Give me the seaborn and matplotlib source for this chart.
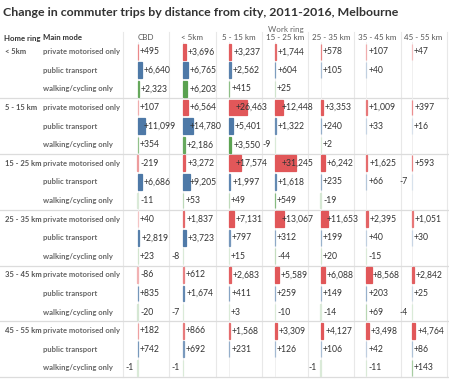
import numpy as np
import pandas as pd
import seaborn as sns
import matplotlib.pyplot as plt
from matplotlib.colors import to_rgb

nan = np.nan
work_rings = ["CBD", "< 5km", "5 - 15 km", "15 - 25 km", "25 - 35 km", "35 - 45 km", "45 - 55 km"]
home_rings = ["< 5km", "5 - 15 km", "15 - 25 km", "25 - 35 km", "35 - 45 km", "45 - 55 km"]
modes = ["private motorised only", "public transport", "walking/cycling only"]

# change in trips, rows = home ring, cols = work ring
private = [
    [495, 3696, 3237, 1744, 578, 107, 47],
    [107, 6564, 26463, 12448, 3353, 1009, 397],
    [-219, 3272, 17574, 31245, 6242, 1625, 593],
    [40, 1837, 7131, 13067, 11653, 2395, 1051],
    [-86, 612, 2683, 5589, 6088, 8568, 2842],
    [182, 866, 1568, 3309, 4127, 3498, 4764],
]
public = [
    [6640, 6765, 2562, 604, 105, 40, nan],
    [11099, 14780, 5401, 1322, 240, 33, 16],
    [6686, 9205, 1997, 1618, 235, 66, -7],
    [2819, 3723, 797, 312, 199, 40, 30],
    [835, 1674, 411, 259, 149, 203, 25],
    [742, 692, 231, 126, 106, 42, 86],
]
walking = [
    [2323, 6203, 415, 25, nan, nan, nan],
    [354, 2186, 3550, -9, 2, nan, nan],
    [-11, 53, 49, 549, -19, nan, nan],
    [23, -8, 15, -44, 20, -15, nan],
    [-20, -7, 3, -10, -14, 69, -4],
    [-1, -1, nan, nan, -1, -11, 143],
]
mode_colors = ["#e15759", "#4e79a7", "#59a14f"]

rows = []
for g, home in enumerate(home_rings):
    for m, table in enumerate([private, public, walking]):
        for j, work in enumerate(work_rings):
            rows.append(dict(home=home, mode=modes[m], m=m, work=work,
                             row=f"{g}-{m}", change=table[g][j]))
df = pd.DataFrame(rows)
df["bar"] = df["change"].fillna(0)
row_order = [f"{g}-{m}" for g in range(6) for m in range(3)]


def shade(color, v):
    # lighter tint for small changes, full colour for big ones
    t = np.clip((np.log10(max(abs(v), 1)) - 1.2) / (3.6 - 1.2), 0, 1)
    mix = 0.22 + 0.78 * t
    c = np.array(to_rgb(color))
    return tuple(1 - mix * (1 - c))


plt.rcParams['font.family'] = ['Lato', 'DejaVu Sans']
W, H = 449, 379
fig = plt.figure(figsize=(W / 100, H / 100), dpi=100)
bg = fig.add_axes([0, 0, 1, 1])
bg.set_xlim(0, W)
bg.set_ylim(H, 0)
bg.axis("off")

top, bottom = 42.4, 377.2
rh = (bottom - top) / 18
ppu = 0.00068  # pixels per trip
col_left = [123 + j * 46.25 for j in range(8)]
zero_px = [137.5 + j * 45.75 for j in range(7)]

bg.text(3, 13, "Change in commuter trips by distance from city, 2011-2016, Melbourne",
        fontsize=8.9, fontweight="bold", color="#333333", va="center")
bg.text((col_left[0] + W) / 2, 29.5, "Work ring", fontsize=5.8, color="#666666",
        ha="center", va="center")
bg.text(4, 38, "Home ring", fontsize=5.6, fontweight="bold", color="#333333", va="center")
bg.text(43, 38, "Main mode", fontsize=5.6, fontweight="bold", color="#333333", va="center")

for x in col_left:
    bg.plot([x, x], [32, bottom], color="#e8e8e8", lw=0.8)
for g in range(1, 7):
    y = top + g * 3 * rh
    bg.plot([0, W], [y, y], color="#dcdcdc", lw=0.9)
for g, home in enumerate(home_rings):
    bg.text(5, top + (g * 3 + 0.5) * rh, home, fontsize=5.5, fontweight="bold",
            color="#555555", va="center")
    for m, mode in enumerate(modes):
        bg.text(43, top + (g * 3 + m + 0.5) * rh, mode, fontsize=5.5,
                fontweight="bold", color="#666666", va="center")

for j, work in enumerate(work_rings):
    c0, c1 = col_left[j], col_left[j + 1]
    bg.text((c0 + c1) / 2, 38, work, fontsize=5.8, color="#555555", ha="center", va="center")
    ax = fig.add_axes([c0 / W, 1 - bottom / H, (c1 - c0) / W, (bottom - top) / H])
    sub = df[df.work == work].set_index("row").loc[row_order].reset_index()
    sns.barplot(data=sub, x="bar", y="row", order=row_order, orient="h", width=0.84,
                errorbar=None, linewidth=0.9, ax=ax)
    ax.set_xlim(-(zero_px[j] - c0) / ppu, (c1 - zero_px[j]) / ppu)
    ax.set_ylim(17.5, -0.5)
    ax.axvline(0, color="#eeeeee", lw=0.6, zorder=0)
    ax.axis("off")
    for i, (patch, r) in enumerate(zip(ax.patches, sub.itertuples())):
        if np.isnan(r.change):
            patch.set_visible(False)
            continue
        c = shade(mode_colors[r.m], r.change)
        patch.set_facecolor(c)
        patch.set_edgecolor(c)
        v = int(r.change)
        if v < 0 and abs(v) < 10:
            ax.text(-4 / ppu, i, f"{v:,}", fontsize=6.2, color="#333333",
                    ha="right", va="center")
        else:
            bar_px = max(v, 0) * ppu
            lx = min(bar_px + 2, 6.5) if v > 0 else 2.5
            lab = f"+{v:,}" if v > 0 else f"{v:,}"
            ax.text(lx / ppu, i, lab, fontsize=6.2, color="#333333",
                    ha="left", va="center")

fig.savefig("out.png", dpi=100)
